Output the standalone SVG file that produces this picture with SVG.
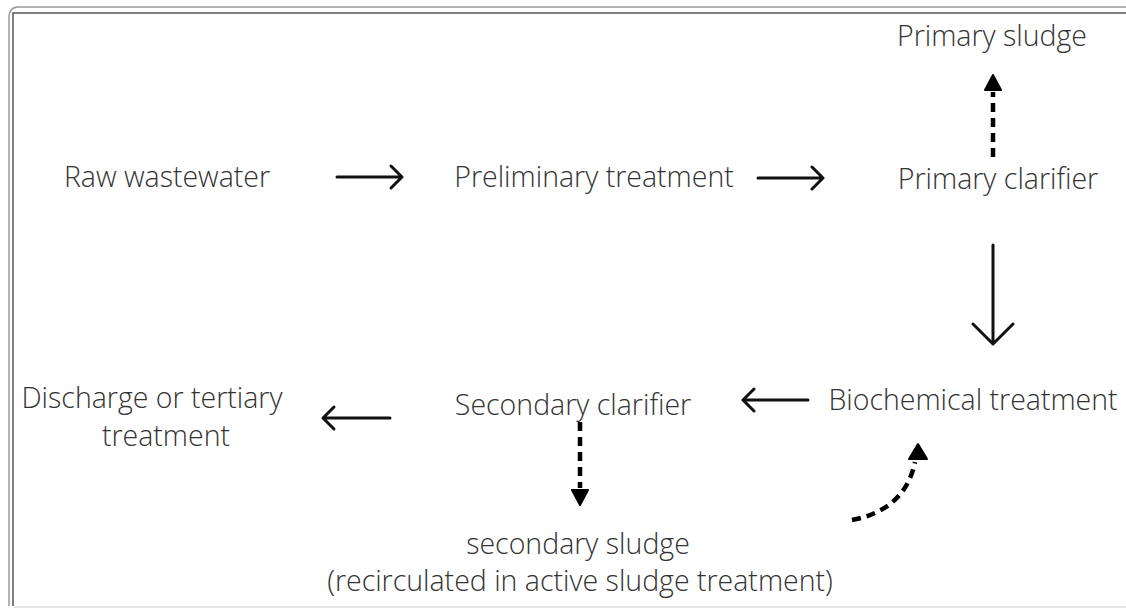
<svg xmlns="http://www.w3.org/2000/svg" width="1126" height="610" viewBox="0 0 1126 610">
<defs>
<style>
.t{font-family:"Open Sans","Liberation Sans",sans-serif;font-size:28.5px;font-weight:300;fill:#333;text-anchor:middle}
.s{fill:none;stroke:#111;stroke-width:3;stroke-linecap:round;stroke-linejoin:round}
.d{fill:none;stroke:#000;stroke-width:4.5;stroke-dasharray:9 6}
.h{fill:#000;stroke:#000;stroke-width:2;stroke-linejoin:round}
</style>
</defs>
<rect width="1126" height="610" fill="#fff"/>
<g id="frame" fill="none">
<path d="M9 606 V18 Q9 7 18 7 H1126" stroke="#9a9a9a" stroke-width="1.5"/>
<path d="M13 606 V13 H1126" stroke="#555" stroke-width="1.5"/>
<path d="M14 607 H1126" stroke="#ccc" stroke-width="1"/>
</g>
<g id="raw"><text class="t" x="167" y="187">Raw wastewater</text></g>
<g id="preliminary"><text class="t" x="594" y="187">Preliminary treatment</text></g>
<g id="primary-clarifier"><text class="t" x="998" y="189">Primary clarifier</text></g>
<g id="primary-sludge"><text class="t" x="992" y="46">Primary sludge</text></g>
<g id="biochemical"><text class="t" x="973" y="410">Biochemical treatment</text></g>
<g id="secondary-clarifier"><text class="t" x="573" y="415">Secondary clarifier</text></g>
<g id="discharge"><text class="t" x="152" y="408">Discharge or tertiary</text><text class="t" x="166" y="446">treatment</text></g>
<g id="secondary-sludge"><text class="t" x="578" y="554">secondary sludge</text><text class="t" x="580" y="591">(recirculated in active sludge treatment)</text></g>
<g id="connectors">
<path class="s" d="M337 177 H402 M391 166 L402 177 L391 188"/>
<path class="s" d="M758 178 H823 M812 167 L823 178 L812 189"/>
<path class="s" d="M993 245 V343 M973 324 L993 344 L1013 324"/>
<path class="s" d="M808 400 H743 M754 389 L743 400 L754 411"/>
<path class="s" d="M390 418 H323 M334 407 L323 418 L334 429"/>
<path class="d" d="M993 157 V92"/>
<path class="h" d="M993 75 L1001 90 L985 90 Z"/>
<path class="d" d="M580 422 V488"/>
<path class="h" d="M580 505 L572 490 L588 490 Z"/>
<path class="d" d="M852 520 Q905 510 915 462"/>
<path class="h" d="M918 444 L927 459 L909 459 Z"/>
</g>
</svg>
